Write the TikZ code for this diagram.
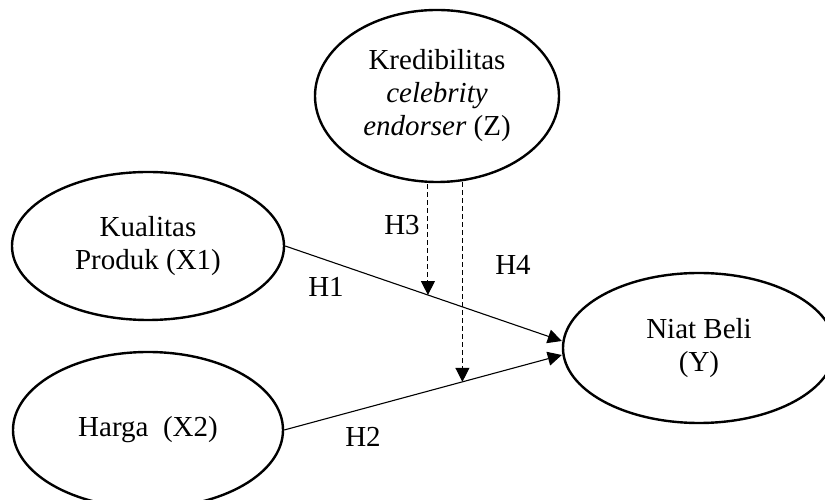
\documentclass[tikz,border=0pt]{standalone}
\usepackage{fontspec}
\setmainfont{Liberation Serif}
\usetikzlibrary{shapes.geometric,arrows.meta,calc}
\tikzset{
  var/.style={ellipse, draw, line width=2.4pt, inner sep=0pt, align=center,
    font=\fontsize{29}{33}\selectfont},
  lbl/.style={font=\fontsize{29}{33}\selectfont, inner sep=0pt},
  path/.style={line width=1.1pt, -{Triangle[length=14pt,width=14pt]}},
  mod/.style={line width=1.1pt, dash pattern=on 5pt off 3pt, -{Triangle[length=14pt,width=14pt]}}
}
\begin{document}
\begin{tikzpicture}[x=1pt,y=1pt]
\useasboundingbox (0,0) rectangle (825,500);
\clip (0,0) rectangle (825,500);
\node[var, minimum width=244pt, minimum height=172pt] (z) at (437,404)
  {Kredibilitas\\\textit{celebrity}\\\textit{endorser} (Z)};
\node[var, minimum width=272pt, minimum height=148pt] (x1) at (148,254)
  {Kualitas\\Produk (X1)};
\node[var, minimum width=270pt, minimum height=156pt] (x2) at (148,70)
  {Harga~~(X2)};
\node[var, minimum width=272pt, minimum height=150pt] (y) at (699,152)
  {Niat Beli\\(Y)};
\coordinate (y1) at ([yshift=7pt]y.west);
\coordinate (y2) at ([yshift=-7pt]y.west);
\draw[path] (x1.east) -- (y1);
\draw[path] (x2.east) -- (y2);
\coordinate (h3) at ($(x1.east)!0.516!(y1)$);
\coordinate (h4) at ($(x2.east)!0.642!(y2)$);
\draw[mod] ([yshift=-1pt]h3 |- z.south) -- (h3);
\draw[mod] ([yshift=1pt]h4 |- z.south) -- (h4);
\node[lbl] (l3) at (402,275) {H3};
\node[lbl] (l4) at (513,235) {H4};
\node[lbl] (l1) at (326,213) {H1};
\node[lbl] (l2) at (363,63) {H2};
\end{tikzpicture}
\end{document}
